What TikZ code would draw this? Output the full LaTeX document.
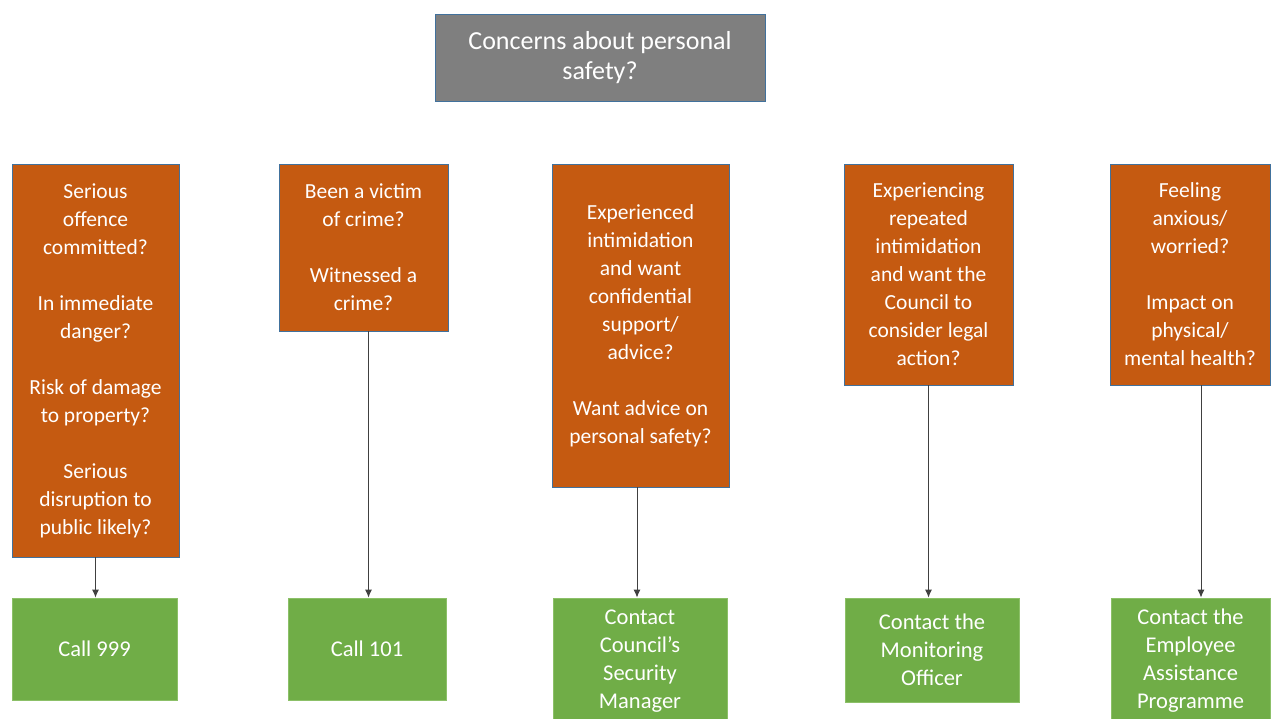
\documentclass[tikz,border=0pt]{standalone}
\usepackage{fontspec}
\setmainfont{Carlito}
\usetikzlibrary{arrows.meta}
\definecolor{boxgray}{HTML}{7F7F7F}
\definecolor{boxorange}{HTML}{C55A11}
\definecolor{boxgreen}{HTML}{70AD47}
\definecolor{edgeblue}{HTML}{41719C}
\definecolor{edgegreen}{HTML}{8CC068}
\begin{document}
\begin{tikzpicture}[x = 1pt, y = -1pt,
    box/.style = {align = center, text = white, inner sep = 0pt, line width = 0.8pt,
      font = \fontsize{21.5}{28}\selectfont},
    question/.style = {box, fill = boxorange, draw = edgeblue},
    answer/.style = {box, fill = boxgreen, draw = edgegreen, font = \fontsize{22.5}{28}\selectfont},
    link/.style = {-{Latex[length = 8pt, width = 7pt]}, draw = black!75, line width = 1pt}]
    \useasboundingbox (0, 0) rectangle (1271, 718);
    \node[box, fill = boxgray, draw = edgeblue, minimum width = 330pt, minimum height = 87pt, font = \fontsize{26}{30}\selectfont] (personal safety) at (600, 57.5) {Concerns about personal \\ safety?};
    \node[question, minimum width = 167pt, minimum height = 393pt] (serious offence) at (95.5, 360.5) {Serious \\ offence \\ committed? \\[28pt] In immediate \\ danger? \\[28pt] Risk of damage \\ to property? \\[28pt] Serious \\ disruption to \\ public likely?};
    \node[question, minimum width = 169pt, minimum height = 167pt] (victim of crime) at (363.5, 247.5) {Been a victim \\ of crime? \\[28pt] Witnessed a \\ crime?};
    \node[question, minimum width = 177pt, minimum height = 323pt] (intimidation) at (640.5, 325.5) {Experienced \\ intimidation \\ and want \\ confidential \\ support/ \\ advice? \\[28pt] Want advice on \\ personal safety?};
    \node[question, minimum width = 169pt, minimum height = 221pt] (legal action) at (928.5, 274.5) {Experiencing \\ repeated \\ intimidation \\ and want the \\ Council to \\ consider legal \\ action?};
    \node[question, minimum width = 160pt, minimum height = 221pt] (anxious) at (1190, 274.5) {Feeling \\ anxious/ \\ worried? \\[28pt] Impact on \\ physical/ \\ mental health?};
    \node[answer, minimum width = 165pt, minimum height = 102pt] (call 999) at (94.5, 649) {Call 999};
    \node[answer, minimum width = 158pt, minimum height = 102pt] (call 101) at (367, 649) {Call 101};
    \node[answer, minimum width = 174pt, minimum height = 126pt] (security manager) at (640, 661) {Contact \\ Council’s \\ Security \\ Manager};
    \node[answer, minimum width = 174pt, minimum height = 104pt] (monitoring officer) at (932, 650) {Contact the \\ Monitoring \\ Officer};
    \node[answer, minimum width = 159pt, minimum height = 126pt] (assistance programme) at (1190.5, 661) {Contact the \\ Employee \\ Assistance \\ Programme};
    \draw[link] (serious offence.south) -- (serious offence.south |- call 999.north);
    \draw[link] ([xshift = 5pt]victim of crime.south) -- ([xshift = 5pt]victim of crime.south |- call 101.north);
    \draw[link] ([xshift = -3.5pt]intimidation.south) -- ([xshift = -3.5pt]intimidation.south |- security manager.north);
    \draw[link] (legal action.south) -- (legal action.south |- monitoring officer.north);
    \draw[link] ([xshift = 11pt]anxious.south) -- ([xshift = 11pt]anxious.south |- assistance programme.north);
  \end{tikzpicture}
\end{document}
